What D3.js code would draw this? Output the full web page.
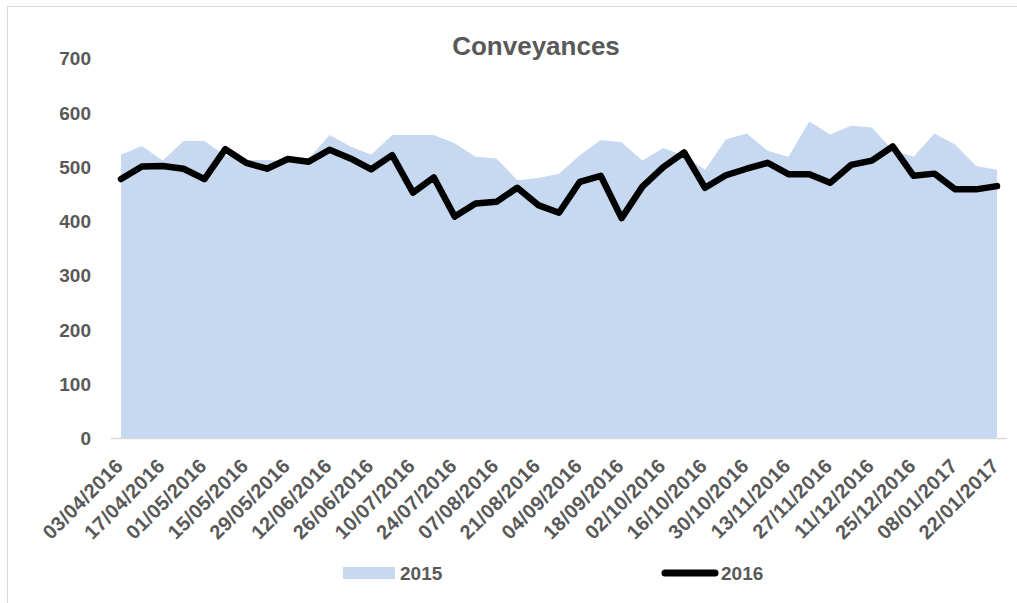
<!DOCTYPE html>
<html>
<head>
<meta charset="utf-8">
<script src="https://cdn.jsdelivr.net/npm/d3@7"></script>
<style>
  html, body { margin: 0; padding: 0; background: #fff; }
  svg { display: block; }
  text { font-family: "Liberation Sans", Arial, sans-serif; font-weight: bold; fill: #595959; }
</style>
</head>
<body>
<svg id="chart" width="1017" height="603"></svg>
<script>
const dates = [
  "03/04/2016","10/04/2016","17/04/2016","24/04/2016","01/05/2016","08/05/2016","15/05/2016",
  "22/05/2016","29/05/2016","05/06/2016","12/06/2016","19/06/2016","26/06/2016","03/07/2016",
  "10/07/2016","17/07/2016","24/07/2016","31/07/2016","07/08/2016","14/08/2016","21/08/2016",
  "28/08/2016","04/09/2016","11/09/2016","18/09/2016","25/09/2016","02/10/2016","09/10/2016",
  "16/10/2016","23/10/2016","30/10/2016","06/11/2016","13/11/2016","20/11/2016","27/11/2016",
  "04/12/2016","11/12/2016","18/12/2016","25/12/2016","01/01/2017","08/01/2017","15/01/2017",
  "22/01/2017"
];
const values2015 = [
  522, 538, 511, 547, 547, 520, 512, 512, 510, 515, 558, 537, 522, 558, 558, 558, 543, 518,
  515, 475, 479, 487, 521, 549, 545, 511, 534, 520, 494, 550, 561, 529, 518, 583, 559, 575,
  572, 530, 518, 561, 540, 501, 494
];
const values2016 = [
  477, 500, 501, 496, 477, 532, 507, 496, 514, 509, 531, 515, 495, 521, 452, 480, 408, 432,
  435, 461, 429, 415, 472, 483, 405, 463, 499, 526, 461, 484, 496, 507, 486, 486, 470, 503,
  511, 537, 483, 487, 458, 458, 464
];
const yTicks = [0, 100, 200, 300, 400, 500, 600, 700];
const xTickLabels = dates.filter((d, i) => i % 2 === 0);
const seriesNames = ["2015", "2016"];
const title = "Conveyances";

const svg = d3.select("#chart");

// outer border (only left/top visible in reference)
svg.append("rect").attr("x", 7.5).attr("y", 6.5).attr("width", 1020).attr("height", 610)
  .attr("fill", "none").attr("stroke", "#d9d9d9").attr("stroke-width", 1);

const x = d3.scalePoint().domain(dates).range([121, 997]);
const y = d3.scaleLinear().domain([0, 700]).range([438, 58]);
const step = x.step();

// area 2015
const area = d3.area().x((d, i) => x(dates[i])).y0(y(0)).y1(d => y(d));
svg.append("path").datum(values2015).attr("d", area).attr("fill", "#c6d9f0");

// x axis baseline
svg.append("line")
  .attr("x1", x(dates[0]) - step / 2).attr("x2", x(dates[dates.length - 1]) + step / 2)
  .attr("y1", y(0) + 0.5).attr("y2", y(0) + 0.5)
  .attr("stroke", "#d9d9d9").attr("stroke-width", 1.5);

// line 2016
const line = d3.line().x((d, i) => x(dates[i])).y(d => y(d));
svg.append("path").datum(values2016).attr("d", line)
  .attr("fill", "none").attr("stroke", "#000").attr("stroke-width", 6.5)
  .attr("stroke-linejoin", "round").attr("stroke-linecap", "round");

// y axis labels
const yAxis = d3.axisLeft(y).tickValues(yTicks).tickSize(0).tickPadding(0);
const yg = svg.append("g").attr("transform", "translate(91,0)").call(yAxis);
yg.select(".domain").remove();
yg.selectAll("text").attr("font-size", 19).attr("font-family", null).attr("fill", "#595959")
  .attr("dy", "0.36em");

// x axis labels
const xAxis = d3.axisBottom(x).tickValues(xTickLabels).tickSize(0).tickPadding(0);
const xg = svg.append("g").attr("transform", "translate(0," + y(0) + ")").call(xAxis);
xg.select(".domain").remove();
xg.selectAll("text")
  .attr("font-size", 20).attr("font-family", null).attr("fill", "#595959")
  .attr("letter-spacing", 0.4)
  .attr("text-anchor", "end").attr("y", 0).attr("dy", 0)
  .attr("transform", "translate(3,29) rotate(-45)");

// title
svg.append("text").attr("x", 536).attr("y", 55).attr("text-anchor", "middle")
  .attr("font-size", 26).text(title);

// legend
svg.append("rect").attr("x", 343).attr("y", 567).attr("width", 52).attr("height", 12)
  .attr("fill", "#c6d9f0");
svg.append("text").attr("x", 400).attr("y", 580).attr("font-size", 19).text(seriesNames[0]);
svg.append("line").attr("x1", 665).attr("x2", 715).attr("y1", 573).attr("y2", 573)
  .attr("stroke", "#000").attr("stroke-width", 7).attr("stroke-linecap", "round");
svg.append("text").attr("x", 721).attr("y", 580).attr("font-size", 19).text(seriesNames[1]);
</script>
</body>
</html>
